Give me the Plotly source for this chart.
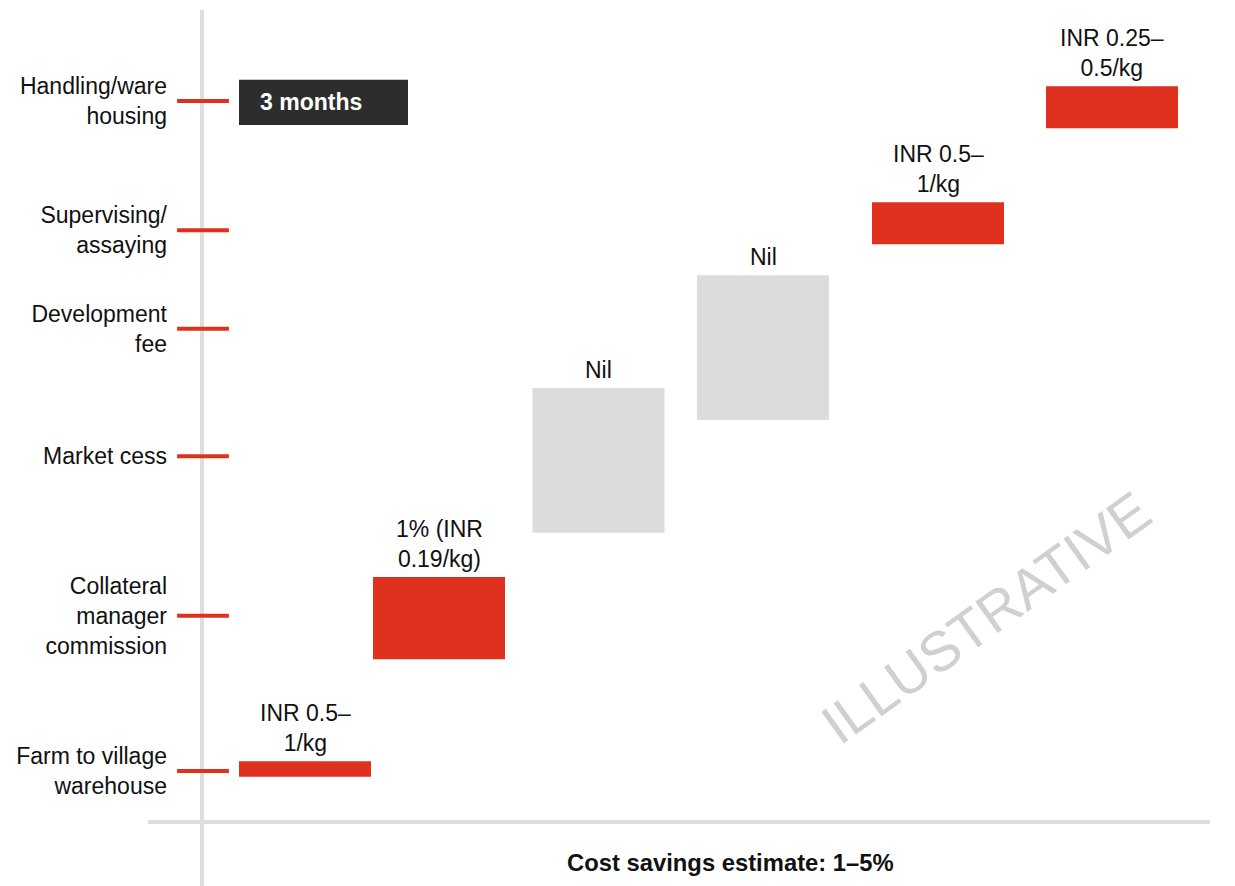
import plotly.graph_objects as go

# ---------------- data ----------------
steps = ["Farm to village warehouse", "Collateral manager commission", "Market cess",
         "Development fee", "Supervising/assaying", "Handling/ware housing"]
tick_text = ["Farm to village<br>warehouse", "Collateral<br>manager<br>commission", "Market cess",
             "Development<br>fee", "Supervising/<br>assaying", "Handling/ware<br>housing"]
tick_vals = [6.2, 25.1, 44.5, 60.0, 72.0, 87.7]
bar_base = [5.5, 19.8, 35.2, 48.9, 70.3, 84.4]
bar_top = [7.4, 29.8, 52.8, 66.5, 75.4, 89.5]
bar_labels = ["INR 0.5–<br>1/kg", "1% (INR<br>0.19/kg)", "Nil", "Nil",
              "INR 0.5–<br>1/kg", "INR 0.25–<br>0.5/kg"]
bar_kind = ["saving", "saving", "nil", "nil", "saving", "saving"]
duration_label = "3 months"
duration_span = [3.7, 20.6]          # x-extent of duration box
duration_y = [84.8, 90.3]            # y-extent of duration box
footer = "Cost savings estimate: 1–5%"
watermark = "ILLUSTRATIVE"

# ---------------- layout constants ----------------
x_pos = [10.3, 23.7, 39.65, 56.1, 73.6, 91.0]
bar_width = 13.2
RED = "#E0301E"
GREY = "#DCDCDC"
AXIS = "#DEDEDE"
DARK = "#2D2D2D"
FONT = "Liberation Sans, Arial, Helvetica, sans-serif"

colors = [RED if k == "saving" else GREY for k in bar_kind]
heights = [t - b for t, b in zip(bar_top, bar_base)]

fig = go.Figure()

fig.add_trace(go.Bar(
    x=x_pos, y=heights, base=bar_base, width=bar_width,
    marker=dict(color=colors, line=dict(width=0)),
    hoverinfo="skip", showlegend=False,
))

# red category markers on the vertical axis
fig.add_trace(go.Scatter(
    x=[0.1] * len(tick_vals), y=tick_vals, mode="markers",
    marker=dict(symbol="line-ew", size=37, line=dict(color=RED, width=4)),
    cliponaxis=False, hoverinfo="skip", showlegend=False,
))

# bar labels
for x, t, lab in zip(x_pos, bar_top, bar_labels):
    fig.add_annotation(x=x, y=t, text=lab, showarrow=False, xanchor="center",
                       yanchor="bottom", yshift=3,
                       font=dict(family=FONT, size=23, color="#111111"))

# duration box
fig.add_shape(type="rect", xref="x", yref="y",
              x0=duration_span[0], x1=duration_span[1], y0=duration_y[0], y1=duration_y[1],
              fillcolor=DARK, line=dict(width=0), layer="above")
fig.add_annotation(x=duration_span[0] + 1.9, y=sum(duration_y) / 2, text="<b>" + duration_label + "</b>",
                   showarrow=False, xanchor="left", yanchor="middle",
                   font=dict(family=FONT, size=23, color="white"))

# axis lines (paper coordinates so they are not clipped)
fig.add_shape(type="line", xref="paper", yref="paper", x0=-0.0523, x1=0.9758, y0=0, y1=0,
              line=dict(color=AXIS, width=4), layer="below")
fig.add_shape(type="line", xref="paper", yref="paper", x0=0, x1=0, y0=-0.1, y1=0.988,
              line=dict(color=AXIS, width=4), layer="below")

# footer
fig.add_annotation(x=52.8, xref="x", y=-0.0487, yref="paper", text="<b>" + footer + "</b>",
                   showarrow=False, xanchor="center", yanchor="middle",
                   font=dict(family=FONT, size=23.8, color="#111111"))

# watermark
fig.add_annotation(x=78.4, y=24.9, text=watermark, showarrow=False, textangle=-35.6,
                   xanchor="center", yanchor="middle",
                   font=dict(family=FONT, size=56, color="#D0D0D0"))

fig.update_layout(
    width=1235, height=886,
    margin=dict(l=202, r=0, t=0, b=64),
    paper_bgcolor="white", plot_bgcolor="white",
    barmode="overlay",
    xaxis=dict(range=[0, 103.3], showgrid=False, zeroline=False, showline=False,
               showticklabels=False, ticks=""),
    yaxis=dict(range=[0, 100], showgrid=False, zeroline=False, showline=False,
               tickvals=tick_vals, ticktext=tick_text, ticks="",
               ticklabelstandoff=34,
               tickfont=dict(family=FONT, size=23, color="#111111")),
)

fig.write_html("out.html")
